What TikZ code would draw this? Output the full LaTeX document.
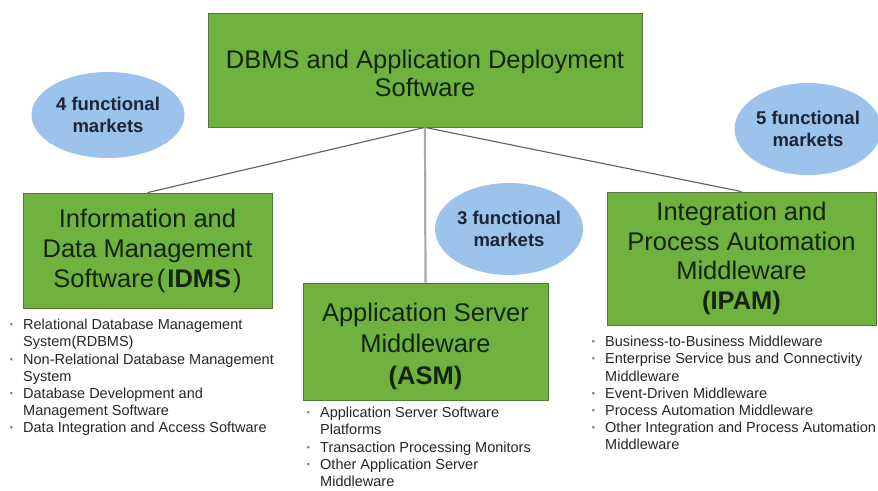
\documentclass[tikz,border=0pt]{standalone}
\usepackage{fontspec}
\setmainfont{Liberation Sans}
\usetikzlibrary{shapes.geometric}

\definecolor{boxgreen}{RGB}{112,178,64}
\definecolor{boxedge}{RGB}{86,118,62}
\definecolor{boxtext}{RGB}{20,36,12}
\definecolor{ovalblue}{RGB}{155,195,236}
\definecolor{ovaltext}{RGB}{28,36,56}
\definecolor{linkgray}{RGB}{95,95,95}
\definecolor{stemgray}{RGB}{168,168,168}

\newcommand{\bul}{\llap{\textcolor{black!55}{\textbf{·}}\hspace{9pt}}}

\tikzset{
	segbox/.style = {draw = boxedge, fill = boxgreen, text = boxtext, align = center, inner sep = 0pt, line width = 0.8pt, font = \fontsize{25.5}{30}\selectfont},
	marketoval/.style = {ellipse, fill = ovalblue, text = ovaltext, align = center, inner sep = 0pt, font = \bfseries\fontsize{18.5}{22}\selectfont},
	itemlist/.style = {anchor = north west, align = left, inner sep = 0pt, text = black!85, font = \fontsize{14.5}{17.2}\selectfont},
	link/.style = {draw = linkgray, line width = 1.1pt},
	stem/.style = {draw = stemgray, line width = 2.2pt}
}

\begin{document}
\begin{tikzpicture}[x = 1pt, y = -1pt]
			\useasboundingbox[fill = white] (0, 0) rectangle (878, 490);
			
			% boxes
			\node[segbox, minimum width = 434, minimum height = 114, font = \fontsize{25.5}{28}\selectfont] (top) at (425, 70) {\rule{0pt}{26pt}DBMS and Application Deployment\\Software};
			\node[segbox, minimum width = 249, minimum height = 115] (idms) at (147.5, 250.5) {Information and\\Data Management\\Software\hspace{3pt}(\hspace{2pt}\textbf{IDMS}\hspace{2pt})};
			\node[segbox, minimum width = 245, minimum height = 117, font = \fontsize{25.5}{31.5}\selectfont] (asm) at (425.5, 341.5) {\rule{0pt}{28pt}Application Server\\Middleware\\\textbf{(ASM)}};
			\node[segbox, minimum width = 269, minimum height = 133, font = \fontsize{25.5}{29.5}\selectfont] (ipam) at (741.5, 258.5) {Integration and\\Process Automation\\Middleware\\\textbf{(IPAM)}};
			
			% functional markets
			\node[marketoval, minimum width = 153, minimum height = 86] (idmsmk) at (108, 115) {4 functional\\markets};
			\node[marketoval, minimum width = 148, minimum height = 92] (asmmk) at (509, 229) {3 functional\\markets};
			\node[marketoval, minimum width = 146, minimum height = 92] (ipammk) at (808, 129) {5 functional\\markets};
			
			\foreach \n/\s in {idms/link, ipam/link, asm/stem} {
				\draw[\s] (top.south) -- (\n.north);
			}
			
			% market lists
			\node[itemlist] (idmslist) at (23, 319) {\bul Relational Database Management\\System(RDBMS)\\\bul Non-Relational Database Management\\System\\\bul Database Development and\\Management Software\\\bul Data Integration and Access Software};
			\node[itemlist] (asmlist) at (320, 407) {\bul Application Server Software\\Platforms\\\bul Transaction Processing Monitors\\\bul Other Application Server\\Middleware};
			\node[itemlist] (ipamlist) at (605, 336) {\bul Business-to-Business Middleware\\\bul Enterprise Service bus and Connectivity\\Middleware\\\bul Event-Driven Middleware\\\bul Process Automation Middleware\\\bul Other Integration and Process Automation\\Middleware};
		\end{tikzpicture}
\end{document}
